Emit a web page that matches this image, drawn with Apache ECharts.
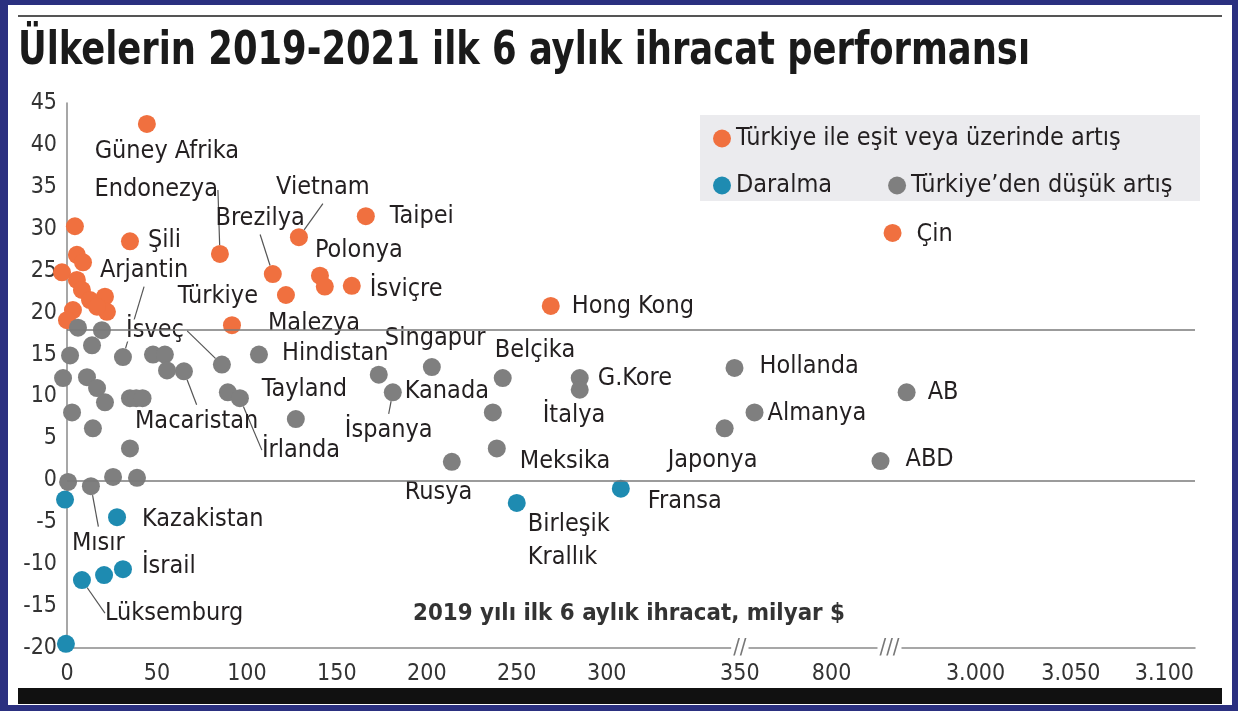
<!DOCTYPE html>
<html><head><meta charset="utf-8">
<script src="https://cdn.jsdelivr.net/npm/echarts@6/dist/echarts.min.js"></script>
<style>
html,body{margin:0;padding:0;background:#2b3080;width:1238px;height:711px;overflow:hidden}
#paper{position:absolute;left:8px;top:5px;width:1224px;height:700px;background:#fff}
#chart{position:absolute;left:0;top:0;width:1238px;height:711px}
</style></head><body>
<div id="paper"></div><div id="chart"></div>
<script>
// ---------------- texts ----------------
const titleText = 'Ülkelerin 2019-2021 ilk 6 aylık ihracat performansı';
const xAxisTitle = '2019 yılı ilk 6 aylık ihracat, milyar $';
const legendNames = ['Türkiye ile eşit veya üzerinde artış', 'Daralma', 'Türkiye’den düşük artış'];

// ---------------- axes ----------------
const xTickValues = [0, 50, 100, 150, 200, 250, 300, 350, 800, 3000, 3050, 3100];
const xTickLabels = ['0', '50', '100', '150', '200', '250', '300', '350', '800', '3.000', '3.050', '3.100'];
// broken axis: where each tick sits along the drawn axis (axis units)
const xTickSlots = [0, 50, 100, 150, 200, 250, 300, 374, 425, 505, 558, 610];
const xBreakValues = [350, 1685];
const xBreakMarks = ['//', '///'];
const yMin = -20, yMax = 45, yStep = 5;
const turkiyeLevel = 17.9;

// ---------------- data (x: 2019 H1 exports, bn $; y: change %) ----------------
const orangeNames = ['Güney Afrika', 'Şili', 'Endonezya', 'Vietnam', 'Taipei', 'Brezilya', 'Polonya', '', 'İsviçre', 'Türkiye', 'Malezya', 'Hong Kong', 'Çin',
  '', '', '', '', '', '', '', '', '', '', '', ''];
const orangeX = [44.4, 35.0, 85.0, 128.9, 166.1, 114.4, 140.6, 143.3, 158.3, 91.7, 121.7, 268.9, 1732,
  4.4, 5.5, 8.9, -2.8, 5.5, 8.3, 12.8, 21.1, 22.2, 3.3, 0.0, 16.7];
const orangeY = [42.5, 28.5, 27.0, 29.0, 31.5, 24.6, 24.4, 23.1, 23.2, 18.5, 22.1, 20.8, 29.5,
  30.3, 26.9, 26.0, 24.8, 23.9, 22.7, 21.5, 21.9, 20.1, 20.3, 19.1, 20.7];

const blueNames = ['Kazakistan', 'İsrail', '', 'Lüksemburg', '', '', 'Birleşik Krallık', 'Fransa'];
const blueX = [27.8, 31.1, 20.6, 8.3, -1.1, -0.6, 250.0, 305.3];
const blueY = [-4.4, -10.6, -11.3, -11.9, -2.3, -19.5, -2.7, -1.0];

const grayNames = ['Arjantin', '', '', '', '', '', '', '', 'Macaristan', '', '', '', '', '', '', '', '', '', '', '', 'Mısır', '', '',
  'İsveç', '', 'İrlanda', 'Singapur', 'Hindistan', 'Tayland', 'Kanada', 'İspanya', 'Belçika', '', 'Meksika', 'Rusya', 'G.Kore', 'İtalya',
  'Hollanda', 'Almanya', 'Japonya', 'AB', 'ABD'];
const grayX = [31.1, 1.7, 13.9, 19.4, 6.1, 47.8, 54.4, 55.6, 65.0, -2.2, 11.1, 16.7, 21.1, 35.0, 38.5, 42.0, 2.8, 14.4, 35.0, 0.6, 13.3, 25.6, 38.9,
  86.1, 89.4, 96.1, 202.8, 106.7, 127.2, 173.3, 181.1, 242.2, 236.7, 238.9, 213.9, 285.0, 285.0,
  348, 422, 344.3, 1947, 1548];
const grayY = [14.7, 14.9, 16.1, 17.9, 18.2, 15.0, 15.0, 13.1, 13.0, 12.2, 12.3, 11.0, 9.3, 9.8, 9.8, 9.8, 8.1, 6.2, 3.8, -0.2, -0.7, 0.4, 0.3,
  13.8, 10.5, 9.8, 13.5, 15.0, 7.3, 12.6, 10.5, 12.2, 8.1, 3.8, 2.2, 12.2, 10.8,
  13.4, 8.1, 6.2, 10.5, 2.3];

// label text that is broken over two lines in the original
const labelTextOverrides = { 'Birleşik Krallık': 'Birleşik\nKrallık' };

// ---------------- label placement (layout only) ----------------
// [anchor edge, dx from point centre, dy from point centre]
const labelPlacement = {
  'Güney Afrika': ['c', 20, 28], 'Şili': ['l', 18, -1], 'Endonezya': ['r', -2, -64], 'Vietnam': ['c', 24, -50],
  'Taipei': ['l', 24, 0], 'Brezilya': ['r', 32, -56], 'Polonya': ['l', -5, -25], 'İsviçre': ['l', 18, 4],
  'Türkiye': ['r', 26, -29], 'Malezya': ['l', -21, 28], 'Hong Kong': ['l', 21, 1], 'Çin': ['l', 24, 2],
  'Arjantin': ['l', -23, -87], 'İsveç': ['r', -35, -34], 'Macaristan': ['l', -49, 50], 'Hindistan': ['l', 23, -1],
  'Tayland': ['l', -34, -30], 'İrlanda': ['l', 22, 52], 'Singapur': ['l', -50, -29], 'Kanada': ['l', 26, 17],
  'İspanya': ['l', -48, 38], 'Belçika': ['l', -8, -28], 'G.Kore': ['l', 18, 0], 'İtalya': ['l', -37, 26],
  'Meksika': ['l', 23, 13], 'Rusya': ['l', -47, 31], 'Hollanda': ['l', 25, -1], 'Almanya': ['l', 13, 1],
  'Japonya': ['l', -57, 32], 'AB': ['l', 21, 0], 'ABD': ['l', 25, -2], 'Mısır': ['l', -19, 57],
  'Kazakistan': ['l', 25, 2], 'İsrail': ['l', 19, -3], 'Lüksemburg': ['l', 23, 33], 'Birleşik Krallık': ['l', 11, 38],
  'Fransa': ['l', 27, 13]
};
const leaderNames = ['Endonezya', 'Vietnam', 'Brezilya', 'Arjantin', 'İsveç', 'Macaristan', 'İrlanda', 'İspanya', 'Mısır', 'Lüksemburg'];
const knockoutNames = ['İsveç', 'Malezya', 'Singapur'];

// ---------------- helpers ----------------
const FONT = '"DejaVu Sans Condensed", "DejaVu Sans", sans-serif';
const COLORS = ['#f0703f', '#1e8bb1', '#7f7f7f'];
const TEXT = '#231f20';

function toAxis(v) { // piecewise scale of the broken axis
  if (v <= xTickValues[0]) return xTickSlots[0] + (v - xTickValues[0]) * (xTickSlots[1] - xTickSlots[0]) / (xTickValues[1] - xTickValues[0]);
  for (let i = 0; i < xTickValues.length - 1; i++) {
    const a = xTickValues[i], b = xTickValues[i + 1];
    if (v <= b) return xTickSlots[i] + (v - a) / (b - a) * (xTickSlots[i + 1] - xTickSlots[i]);
  }
  const n = xTickValues.length - 1;
  return xTickSlots[n] + (v - xTickValues[n]) * (xTickSlots[n] - xTickSlots[n - 1]) / (xTickValues[n] - xTickValues[n - 1]);
}
function build(names, xs, ys) {
  return names.map((nm, i) => ({
    name: nm,
    value: [toAxis(xs[i]), ys[i]],
    label: nm ? (knockoutNames.includes(nm) ? { show: true, backgroundColor: '#fff', padding: [0, 3], lineHeight: 22 } : { show: true }) : { show: false },
    labelLine: { show: leaderNames.includes(nm) }
  }));
}
const seriesNames = [[], orangeNames, blueNames, grayNames];
function measure(text, font) {
  const c = document.createElement('canvas').getContext('2d');
  c.font = font; return c.measureText(text).width;
}

const chart = echarts.init(document.getElementById('chart'), null, { renderer: 'canvas' });

function scatterSeries(name, data, color) {
  return {
    type: 'scatter', name: name, data: data, symbol: 'circle', symbolSize: 18, clip: false,
    itemStyle: { color: color, opacity: 1 },
    label: { show: true, position: 'inside', color: TEXT, fontFamily: FONT, fontSize: 25, lineHeight: 33,
      formatter: p => labelTextOverrides[p.name] || p.name },
    labelLine: { show: false, lineStyle: { color: '#555', width: 1.2 } },
    labelLayout: function (p) {
      const nm = (seriesNames[p.seriesIndex] || [])[p.dataIndex];
      const o = labelPlacement[nm];
      if (!o) return {};
      const r = p.rect, cx = r.x + r.width / 2, cy = r.y + r.height / 2, w = p.labelRect.width;
      let left = cx + o[1];
      if (o[0] === 'r') left -= w; else if (o[0] === 'c') left -= w / 2;
      return { x: left, y: cy + o[2], align: 'left', verticalAlign: 'middle' };
    },
    emphasis: { disabled: true }
  };
}

const titleFont = 'bold 46px ' + FONT;
const titleScale = 1012 / measure(titleText, titleFont);
const axisTitleFont = 'bold 23px ' + FONT;
const axisTitleScale = 432 / measure(xAxisTitle, axisTitleFont);

chart.setOption({
  animation: false,
  backgroundColor: 'transparent',
  grid: { left: 67, right: 43, top: 103, bottom: 63, containLabel: false, outerBoundsMode: 'none' },
  xAxis: {
    type: 'value', min: 0, max: 627, splitLine: { show: false },
    axisLine: { show: true, onZero: false, lineStyle: { color: '#8a8a8a', width: 1.5 } },
    axisTick: { show: false },
    axisLabel: {
      customValues: xTickSlots, margin: 15, color: '#333', fontFamily: FONT, fontSize: 23,
      formatter: v => { const i = xTickSlots.findIndex(s => Math.abs(s - v) < 0.01); return i >= 0 ? xTickLabels[i] : ''; }
    }
  },
  yAxis: {
    type: 'value', min: yMin, max: yMax, interval: yStep, splitLine: { show: false },
    axisLine: { show: true, onZero: false, lineStyle: { color: '#8a8a8a', width: 1.5 } },
    axisTick: { show: false },
    axisLabel: { margin: 10, color: '#333', fontFamily: FONT, fontSize: 23 }
  },
  legend: [
    { data: [legendNames[0]], left: 708, top: 121, icon: 'circle', itemWidth: 18, itemHeight: 18, itemGap: 20,
      textStyle: { color: TEXT, fontFamily: FONT, fontSize: 25 }, selectedMode: false },
    { data: [legendNames[1], legendNames[2]], left: 708, top: 168, icon: 'circle', itemWidth: 18, itemHeight: 18, itemGap: 56,
      textStyle: { color: TEXT, fontFamily: FONT, fontSize: 25 }, selectedMode: false }
  ],
  graphic: { elements: [
    { type: 'rect', id: 'legendBg', z: -10, shape: { x: 700, y: 115, width: 500, height: 86 }, style: { fill: '#ebebee' }, silent: true },
    { type: 'line', id: 'topRule', shape: { x1: 18, y1: 16, x2: 1222, y2: 16 }, style: { stroke: '#555', lineWidth: 2 }, silent: true },
    { type: 'rect', id: 'bottomBar', shape: { x: 18, y: 688, width: 1204, height: 16 }, style: { fill: '#111' }, silent: true },
    { type: 'text', id: 'title', x: 18, y: 52, scaleX: titleScale, style: { text: titleText, font: titleFont, fill: '#1a1a1a', verticalAlign: 'middle' }, silent: true },
    { type: 'text', id: 'xname', x: 629 - 216, y: 614, scaleX: axisTitleScale, style: { text: xAxisTitle, font: axisTitleFont, fill: '#333', verticalAlign: 'middle' }, silent: true }
  ] },
  series: [
    { type: 'scatter', name: 'refs', data: [], silent: true,
      markLine: { silent: true, symbol: 'none', label: { show: false }, animation: false,
        lineStyle: { color: '#7a7a7a', width: 1.5, type: 'solid' },
        data: [{ yAxis: 0 }, { yAxis: turkiyeLevel }] } },
    scatterSeries(legendNames[0], build(orangeNames, orangeX, orangeY), COLORS[0]),
    scatterSeries(legendNames[1], build(blueNames, blueX, blueY), COLORS[1]),
    scatterSeries(legendNames[2], build(grayNames, grayX, grayY), COLORS[2])
  ]
});

// axis break marks placed through the axis scale
const marks = xBreakValues.map((v, i) => {
  const p = chart.convertToPixel({ xAxisIndex: 0, yAxisIndex: 0 }, [toAxis(v), yMin]);
  return { type: 'text', id: 'brk' + i, x: p[0], y: p[1], z: 10,
    style: { text: xBreakMarks[i], font: '22px ' + FONT, fill: '#777', align: 'center', verticalAlign: 'middle', backgroundColor: '#fff', padding: [0, 2] }, silent: true };
});
chart.setOption({ graphic: { elements: marks } });
</script>
</body></html>
